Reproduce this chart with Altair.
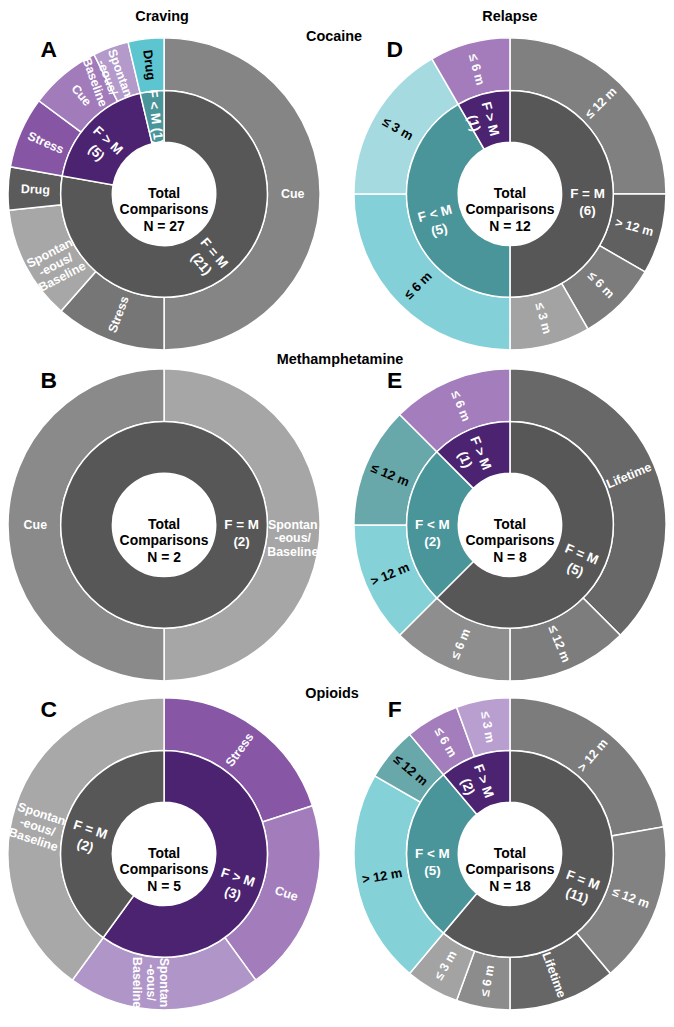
import math
import altair as alt
import pandas as pd

# ---------------- data ----------------
PANELS = ["A", "B", "C", "D", "E", "F"]
PANEL_COL = [0, 0, 0, 1, 1, 1]
PANEL_ROW = [0, 1, 2, 0, 1, 2]

SP = "Spontan\n-eous/\nBaseline"

# Craving - Cocaine
A_inner_groups = ["F = M", "F > M", "F < M"]
A_inner_counts = [21, 5, 1]
A_outer_parent = ["F = M", "F = M", "F = M", "F = M", "F > M", "F > M", "F > M", "F < M"]
A_outer_labels = ["Cue", "Stress", SP, "Drug", "Stress", "Cue", SP, "Drug"]
A_outer_values = [13.5, 3.1, 3.2, 1.2, 2, 2, 1, 1]

# Craving - Methamphetamine
B_inner_groups = ["F = M"]
B_inner_counts = [2]
B_outer_parent = ["F = M", "F = M"]
B_outer_labels = [SP, "Cue"]
B_outer_values = [1, 1]

# Craving - Opioids
C_inner_groups = ["F > M", "F = M"]
C_inner_counts = [3, 2]
C_outer_parent = ["F > M", "F > M", "F > M", "F = M"]
C_outer_labels = ["Stress", "Cue", SP, SP]
C_outer_values = [1, 1, 1, 2]

# Relapse - Cocaine
D_inner_groups = ["F = M", "F < M", "F > M"]
D_inner_counts = [6, 5, 1]
D_outer_parent = ["F = M", "F = M", "F = M", "F = M", "F < M", "F < M", "F > M"]
D_outer_labels = ["≤ 12 m", "> 12 m", "≤ 6 m", "≤ 3 m", "≤ 6 m", "≤ 3 m", "≤ 6 m"]
D_outer_values = [3, 1, 1, 1, 3, 2, 1]

# Relapse - Methamphetamine
E_inner_groups = ["F = M", "F < M", "F > M"]
E_inner_counts = [5, 2, 1]
E_outer_parent = ["F = M", "F = M", "F = M", "F < M", "F < M", "F > M"]
E_outer_labels = ["Lifetime", "≤ 12 m", "≤ 6 m", "> 12 m", "≤ 12 m", "≤ 6 m"]
E_outer_values = [3, 1, 1, 1, 1, 1]

# Relapse - Opioids
F_inner_groups = ["F = M", "F < M", "F > M"]
F_inner_counts = [11, 5, 2]
F_outer_parent = ["F = M", "F = M", "F = M", "F = M", "F = M", "F < M", "F < M", "F > M", "F > M"]
F_outer_labels = ["> 12 m", "≤ 12 m", "Lifetime", "≤ 6 m", "≤ 3 m", "> 12 m", "≤ 12 m", "≤ 6 m", "≤ 3 m"]
F_outer_values = [4, 3, 2, 1, 1, 4, 1, 1, 1]

DATA = {
    "A": (A_inner_groups, A_inner_counts, A_outer_parent, A_outer_labels, A_outer_values),
    "B": (B_inner_groups, B_inner_counts, B_outer_parent, B_outer_labels, B_outer_values),
    "C": (C_inner_groups, C_inner_counts, C_outer_parent, C_outer_labels, C_outer_values),
    "D": (D_inner_groups, D_inner_counts, D_outer_parent, D_outer_labels, D_outer_values),
    "E": (E_inner_groups, E_inner_counts, E_outer_parent, E_outer_labels, E_outer_values),
    "F": (F_inner_groups, F_inner_counts, F_outer_parent, F_outer_labels, F_outer_values),
}

# ---------------- styles ----------------
INNER_COLORS = {"F = M": "#575757", "F > M": "#4b2370", "F < M": "#4a959a"}
OUTER_COLORS = {
    "A": ["#858585", "#767676", "#a7a7a7", "#5b5b5b", "#8656a5", "#a17bba", "#b39acb", "#5cc5d0"],
    "B": ["#a6a6a6", "#8a8a8a"],
    "C": ["#8757a6", "#a27cbb", "#b096c8", "#a8a8a8"],
    "D": ["#808080", "#606060", "#7c7c7c", "#a3a3a3", "#84d0d8", "#a5dbe0", "#a47cbc"],
    "E": ["#686868", "#7d7d7d", "#8e8e8e", "#84d1d8", "#68a8aa", "#a47dbc"],
    "F": ["#7c7c7c", "#828282", "#666666", "#8c8c8c", "#a3a3a3", "#84d1d8", "#68a8aa", "#a47dbc", "#b99fcf"],
}
FONT = "Liberation Sans"
R_OUT, R_MID, R_HOLE = 157, 104, 52


def rotation(frac):
    deg = frac * 360.0
    r = deg - 90 if deg <= 180.0001 else deg - 270
    return r % 360


rows = []
panel_rows = []
keys, colors = [], []
for p, col, row in zip(PANELS, PANEL_COL, PANEL_ROW):
    groups, counts, opar, olab, oval = DATA[p]
    total = sum(counts)
    panel_rows.append(dict(panel=p, col=col, row=row,
                           center=f"Total\nComparisons\nN = {total}"))
    cum = 0
    for g, n in zip(groups, counts):
        f0 = cum / total
        cum += n
        f1 = cum / total
        fm = 0.25 if (f1 - f0) >= 0.999 else (f0 + f1) / 2
        lab = f"{g} ({n})" if (f1 - f0) < 0.06 else f"{g}\n({n})"
        key = f"{p}-in-{g}"
        keys.append(key)
        colors.append(INNER_COLORS[g])
        rows.append(dict(panel=p, col=col, row=row, ring="inner", key=key,
                         f0=f0, f1=f1, fm=fm, label=lab, rot=rotation(fm), ink="light"))
    cum = 0
    for i, (par, lab, v) in enumerate(zip(opar, olab, oval)):
        f0 = cum / total
        cum += v
        f1 = cum / total
        fm = (f0 + f1) / 2
        key = f"{p}-out-{i}"
        keys.append(key)
        colors.append(OUTER_COLORS[p][i])
        rows.append(dict(panel=p, col=col, row=row, ring="outer", key=key,
                         f0=f0, f1=f1, fm=fm, label=lab, rot=rotation(fm),
                         ink="dark" if par == "F < M" else "light"))

df = pd.DataFrame(rows)
pdf = pd.DataFrame(panel_rows)

theta_scale = alt.Scale(domain=[0, 1], range=[0, 2 * math.pi])
X = alt.X("col:Q", scale=alt.Scale(domain=[0, 1], range=[157, 505], nice=False, zero=False), axis=None)
Y = alt.Y("row:Q", scale=alt.Scale(domain=[0, 1, 2], range=[184, 517, 848], nice=False, zero=False), axis=None)
color_enc = alt.Color("key:N", scale=alt.Scale(domain=keys, range=colors), legend=None)

arc_base = alt.Chart(df).encode(
    x=X, y=Y,
    theta=alt.Theta("f0:Q", scale=theta_scale, stack=False),
    theta2=alt.Theta2("f1:Q"),
    color=color_enc,
)
inner_arcs = arc_base.transform_filter("datum.ring == 'inner'").mark_arc(
    radius=R_MID, radius2=R_HOLE, stroke="white", strokeWidth=1.5)
outer_arcs = arc_base.transform_filter("datum.ring == 'outer'").mark_arc(
    radius=R_OUT, radius2=R_MID, stroke="white", strokeWidth=1.5)

lbl_base = alt.Chart(df).encode(
    x=X, y=Y,
    theta=alt.Theta("fm:Q", scale=theta_scale, stack=False),
    text=alt.Text("label:N"),
    angle=alt.Angle("rot:Q", scale=None),
)
inner_lbl = lbl_base.transform_filter("datum.ring == 'inner'").mark_text(
    radius=(R_MID + R_HOLE) / 2, font=FONT, fontSize=13.5, fontWeight="bold",
    color="white", lineBreak="\n", lineHeight=17, align="center", baseline="middle")
outer_lbl_light = lbl_base.transform_filter("datum.ring == 'outer' && datum.ink == 'light'").mark_text(
    radius=(R_OUT + R_MID) / 2 - 1, font=FONT, fontSize=12.5, fontWeight="bold",
    color="white", lineBreak="\n", lineHeight=13.5, align="center", baseline="middle")
outer_lbl_dark = lbl_base.transform_filter("datum.ring == 'outer' && datum.ink == 'dark'").mark_text(
    radius=(R_OUT + R_MID) / 2, font=FONT, fontSize=13, fontWeight="bold",
    color="black", lineBreak="\n", lineHeight=13.5, align="center", baseline="middle")

center_txt = alt.Chart(pdf).mark_text(
    font=FONT, fontSize=14, fontWeight="bold", color="black", lineBreak="\n",
    lineHeight=16.5, align="center", baseline="middle").encode(x=X, y=Y, text="center:N")

letters = alt.Chart(pdf).mark_text(
    font=FONT, fontSize=23, fontWeight="bold", color="black", align="center",
    baseline="middle", dx=-116, dy=-145).encode(x=X, y=Y, text="panel:N")


def title_layer(txt, x, y):
    return alt.Chart(pd.DataFrame({"t": [txt]})).mark_text(
        font=FONT, fontSize=14.5, fontWeight="bold", color="black",
        align="center", baseline="middle").encode(
        x=alt.value(x), y=alt.value(y), text="t:N")


titles = [
    title_layer("Craving", 155, 6),
    title_layer("Relapse", 505, 6),
    title_layer("Cocaine", 328, 26),
    title_layer("Methamphetamine", 334, 351),
    title_layer("Opioids", 326, 687),
]

chart = alt.layer(
    outer_arcs, inner_arcs, outer_lbl_light, outer_lbl_dark, inner_lbl,
    center_txt, letters, *titles
).properties(
    width=662, height=1005,
    autosize=alt.AutoSizeParams(type="none"), padding=0,
).configure_view(stroke=None)

chart.save("out.html", embed_options={"renderer": "svg", "actions": False})
